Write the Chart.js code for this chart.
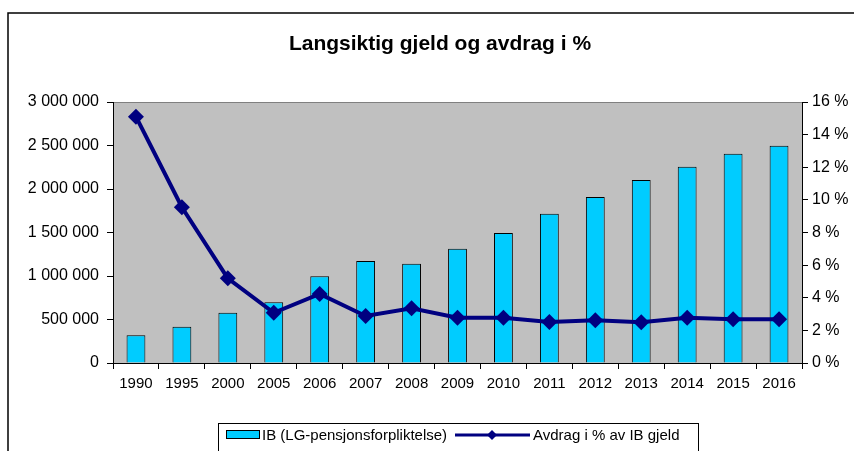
<!DOCTYPE html>
<html>
<head>
<meta charset="utf-8">
<script src="https://cdn.jsdelivr.net/npm/chart.js@4.4.0/dist/chart.umd.min.js"></script>
<style>
  html, body { margin: 0; padding: 0; background: #fff; }
  #wrap { width: 854px; height: 451px; position: relative; }
</style>
</head>
<body>
<div id="wrap"><canvas id="chart" width="854" height="451"></canvas></div>
<script>
// data
var years = ["1990", "1995", "2000", "2005", "2006", "2007", "2008", "2009", "2010", "2011", "2012", "2013", "2014", "2015", "2016"];
var ibValues = [320000, 417000, 578000, 698000, 997000, 1172000, 1141000, 1314000, 1494000, 1716000, 1908000, 2103000, 2256000, 2406000, 2498000];
var avdragPct = [15.1, 9.55, 5.19, 3.08, 4.23, 2.88, 3.35, 2.78, 2.78, 2.52, 2.62, 2.5, 2.78, 2.68, 2.68];
var leftTicks = [0, 500000, 1000000, 1500000, 2000000, 2500000, 3000000];
var rightTicks = [0, 2, 4, 6, 8, 10, 12, 14, 16];

var titleText = "Langsiktig gjeld og avdrag i %";
var barLabel = "IB (LG-pensjonsforpliktelse)";
var lineLabel = "Avdrag i % av IB gjeld";

var font = "Arial, 'Liberation Sans', sans-serif";

function fmtThousands(v) {
  return String(v).replace(/\B(?=(\d{3})+(?!\d))/g, " ");
}

// plot background, frame, title and legend
var decor = {
  id: "decor",
  beforeDraw: function(chart) {
    var ctx = chart.ctx, a = chart.chartArea;
    ctx.save();
    ctx.fillStyle = "#ffffff";
    ctx.fillRect(0, 0, chart.width, chart.height);
    ctx.strokeStyle = "#000";
    ctx.lineWidth = 1.5;
    ctx.beginPath();
    ctx.moveTo(8, chart.height + 5);
    ctx.lineTo(8, 13);
    ctx.lineTo(chart.width + 5, 13);
    ctx.stroke();
    ctx.fillStyle = "#c0c0c0";
    ctx.fillRect(a.left, a.top, a.right - a.left, a.bottom - a.top);
    ctx.strokeStyle = "#808080";
    ctx.lineWidth = 1;
    ctx.strokeRect(a.left + 0.5, a.top + 0.5, a.right - a.left, a.bottom - a.top);
    ctx.restore();
  },
  afterDraw: function(chart) {
    var ctx = chart.ctx;
    ctx.save();
    ctx.fillStyle = "#000";
    ctx.font = "bold 21px " + font;
    ctx.textAlign = "center";
    ctx.textBaseline = "middle";
    ctx.fillText(titleText, 440, 44);

    // legend
    ctx.strokeStyle = "#000";
    ctx.lineWidth = 1;
    ctx.strokeRect(218.5, 423.5, 480, 40);
    ctx.fillStyle = "#00ccff";
    ctx.fillRect(226, 431, 33, 7);
    ctx.strokeRect(226.5, 430.5, 33, 8);
    ctx.fillStyle = "#000";
    ctx.font = "15px " + font;
    ctx.textAlign = "left";
    ctx.fillText(barLabel, 262, 436);
    ctx.strokeStyle = "#000080";
    ctx.lineWidth = 3;
    ctx.beginPath();
    ctx.moveTo(455, 435);
    ctx.lineTo(530, 435);
    ctx.stroke();
    ctx.fillStyle = "#000080";
    ctx.beginPath();
    ctx.moveTo(492, 430);
    ctx.lineTo(497, 435);
    ctx.lineTo(492, 440);
    ctx.lineTo(487, 435);
    ctx.closePath();
    ctx.fill();
    ctx.fillStyle = "#000";
    ctx.fillText(lineLabel, 533, 436);
    ctx.restore();
  }
};

new Chart("chart", {
  type: "bar",
  data: {
    labels: years,
    datasets: [{
      type: "line",
      label: lineLabel,
      data: avdragPct,
      yAxisID: "yR",
      borderColor: "#000080",
      backgroundColor: "#000080",
      borderWidth: 4,
      pointStyle: "rectRot",
      pointRadius: 8,
      pointBorderWidth: 0,
      tension: 0,
      order: 0
    }, {
      label: barLabel,
      data: ibValues,
      yAxisID: "yL",
      backgroundColor: "#00ccff",
      borderColor: "#000000",
      borderWidth: 1,
      barPercentage: 0.41,
      categoryPercentage: 1,
      order: 1
    }]
  },
  options: {
    responsive: false,
    animation: false,
    layout: { padding: { top: 102, bottom: 58, left: 0, right: 0 } },
    plugins: {
      legend: { display: false },
      title: { display: false },
      tooltip: { enabled: false }
    },
    scales: {
      x: {
        offset: true,
        grid: { offset: true, drawOnChartArea: false, color: "#000", tickLength: 6, tickColor: "#000" },
        border: { color: "#000", width: 1 },
        ticks: { color: "#000", font: { family: font, size: 15 }, padding: 6, maxRotation: 0 },
        afterFit: function(s) { s.height = 30; }
      },
      yL: {
        position: "left",
        min: 0,
        max: 3000000,
        afterBuildTicks: function(s) { s.ticks = leftTicks.map(function(v) { return { value: v }; }); },
        grid: { drawOnChartArea: false, color: "#000", tickLength: 6 },
        border: { color: "#000", width: 1 },
        ticks: { color: "#000", font: { family: font, size: 16 }, padding: 8, callback: function(v) { return fmtThousands(v); } },
        afterFit: function(s) { s.width = 113; }
      },
      yR: {
        position: "right",
        min: 0,
        max: 16,
        afterBuildTicks: function(s) { s.ticks = rightTicks.map(function(v) { return { value: v }; }); },
        grid: { drawOnChartArea: false, color: "#000", tickLength: 6 },
        border: { color: "#000", width: 1 },
        ticks: { color: "#000", font: { family: font, size: 16 }, padding: 4, callback: function(v) { return v + " %"; } },
        afterFit: function(s) { s.width = 52; }
      }
    }
  },
  plugins: [decor]
});
</script>
</body>
</html>
